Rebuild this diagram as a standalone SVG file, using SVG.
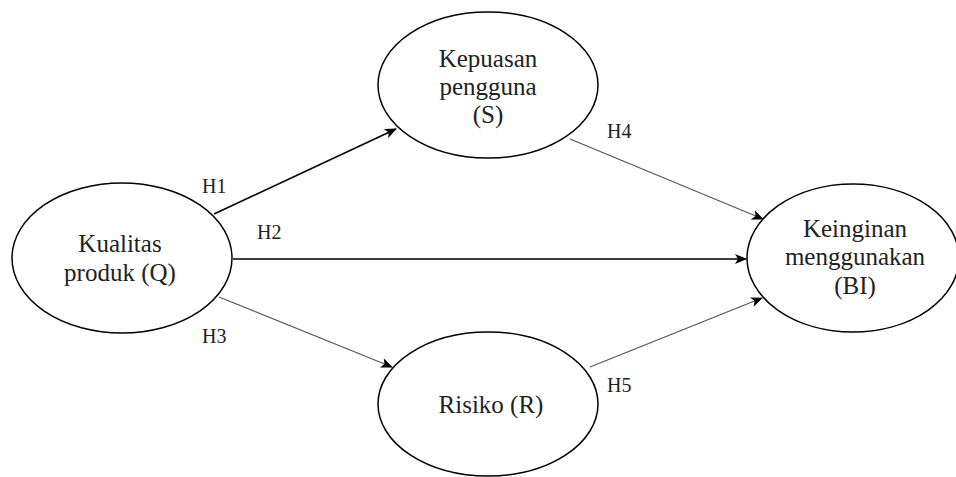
<svg xmlns="http://www.w3.org/2000/svg" width="956" height="477" viewBox="0 0 956 477">
<style>
.node ellipse{fill:#fff;stroke:#000;stroke-width:1.5}
.t{font-family:"Liberation Serif","Times New Roman",serif;font-size:25px;fill:#222;text-anchor:middle}
.h{font-family:"Liberation Serif","Times New Roman",serif;font-size:20px;fill:#222}
.c1{stroke:#000;stroke-width:1.6;fill:none}
.c2{stroke:#555;stroke-width:1.2;fill:none}
</style>
<defs>
<marker id="ah" viewBox="0 0 12 10" refX="11" refY="5" markerWidth="12" markerHeight="10" markerUnits="userSpaceOnUse" orient="auto">
<path d="M0,0 L12,5 L0,10 L3,5 Z" fill="#000"/>
</marker>
</defs>
<rect width="956" height="477" fill="#fff"/>
<g id="connectors">
<line class="c1" x1="214" y1="214" x2="396" y2="129" marker-end="url(#ah)"/>
<line class="c1" x1="233" y1="259" x2="746" y2="259" marker-end="url(#ah)"/>
<line class="c2" x1="219" y1="297" x2="392" y2="367" marker-end="url(#ah)"/>
<line class="c2" x1="570" y1="139" x2="763" y2="219" marker-end="url(#ah)"/>
<line class="c2" x1="590" y1="367" x2="762" y2="298" marker-end="url(#ah)"/>
<text class="h" x="202" y="193">H1</text>
<text class="h" x="257" y="239">H2</text>
<text class="h" x="202" y="343">H3</text>
<text class="h" x="607" y="138">H4</text>
<text class="h" x="607" y="392">H5</text>
</g>
<g id="Q" class="node">
<ellipse cx="122" cy="258" rx="110" ry="75"/>
<text class="t" x="120" y="252">Kualitas</text>
<text class="t" x="120" y="281">produk (Q)</text>
</g>
<g id="S" class="node">
<ellipse cx="488" cy="85" rx="110" ry="73"/>
<text class="t" x="488" y="67">Kepuasan</text>
<text class="t" x="488" y="95">pengguna</text>
<text class="t" x="488" y="123">(S)</text>
</g>
<g id="R" class="node">
<ellipse cx="488" cy="404" rx="110" ry="72"/>
<text class="t" x="491" y="413">Risiko (R)</text>
</g>
<g id="BI" class="node">
<ellipse cx="853" cy="258" rx="106" ry="74"/>
<text class="t" x="855" y="237">Keinginan</text>
<text class="t" x="855" y="265">menggunakan</text>
<text class="t" x="855" y="294">(BI)</text>
</g>
</svg>
